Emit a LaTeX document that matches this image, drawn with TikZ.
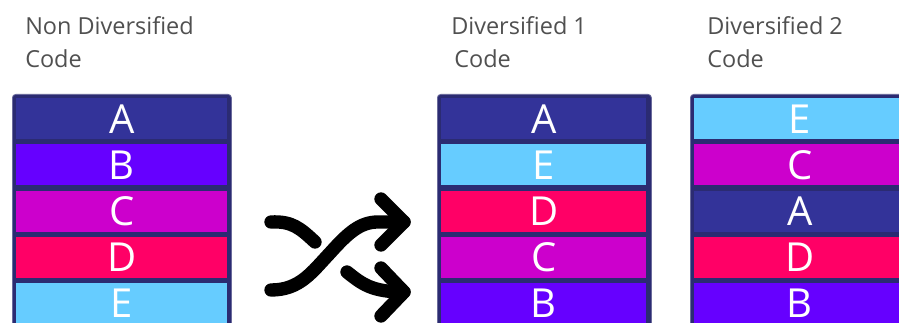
\documentclass[tikz,border=0pt]{standalone}
\usepackage{fontspec}
\setmainfont{Open Sans}
\definecolor{frame}{HTML}{2B2B72}
\definecolor{cA}{HTML}{333399}
\definecolor{cB}{HTML}{6600FF}
\definecolor{cC}{HTML}{CC00CC}
\definecolor{cD}{HTML}{FF0066}
\definecolor{cE}{HTML}{66CCFF}
\definecolor{lbl}{HTML}{505050}
\begin{document}
\begin{tikzpicture}[x=0.75pt,y=-0.75pt,
  title/.style={anchor=base west,inner sep=0pt,text=lbl,font=\fontsize{17.6}{18}\selectfont},
  stackframe/.style={draw=frame!70!white,line width=0.6pt,fill=frame,rounded corners=2.5pt,inner sep=0pt,anchor=north west,minimum height=240*0.75pt},
  row/.style={fill=#1,inner sep=0pt,anchor=north west,minimum height=41*0.75pt,text=white,font=\fontsize{30}{30}\selectfont},
  shuf/.style={line width=10pt,line cap=round,line join=round,black}]
\useasboundingbox (0,0) rectangle (899,323);
\clip (0,0) rectangle (899,323);
\fill[white] (0,0) rectangle (899,323);
% titles
\node[title] (t1a) at (25,35) {Non Diversified};
\node[title] (t1b) at (25,68) {Code};
\node[title] (t2a) at (451,35) {Diversified 1};
\node[title] (t2b) at (454,68) {Code};
\node[title] (t3a) at (707,35) {Diversified 2};
\node[title] (t3b) at (707,68) {Code};
% stacks
\node[stackframe,minimum width=219*0.75pt] (s1) at (12,94) {};
\node[stackframe,minimum width=214*0.75pt] (s2) at (437,94) {};
\node[stackframe,minimum width=219*0.75pt] (s3) at (690,94) {};
% rows
\foreach \n/\c [count=\i from 0] in {A/cA,B/cB,C/cC,D/cD,E/cE}{
  \node[row=\c,minimum width=211*0.75pt] (r1\n) at (16,98+46.2*\i) {\n};
}
\foreach \n/\c [count=\i from 0] in {A/cA,E/cE,D/cD,C/cC,B/cB}{
  \node[row=\c,minimum width=205*0.75pt] (r2\n) at (441,98+46.2*\i) {\n};
}
\foreach \n/\c [count=\i from 0] in {E/cE,C/cC,A/cA,D/cD,B/cB}{
  \node[row=\c,minimum width=211*0.75pt] (r3\n) at (694,98+46.2*\i) {\n};
}
% shuffle icon
\coordinate (p1) at (271,222);
\coordinate (p2) at (315,242);
\coordinate (q1) at (271,290);
\coordinate (q2) at (404,222);
\coordinate (u1) at (347,272);
\coordinate (u2) at (404,292);
\draw[shuf] (p1) .. controls (292,221) and (300,228) .. (p2);
\draw[shuf] (q1) .. controls (300,290) and (312,272) .. (330,253)
  .. controls (348,233) and (360,222) .. (378,222) -- (q2);
\draw[shuf] (u1) .. controls (362,284) and (372,292) .. (u2);
\draw[shuf] (381,199) -- (q2) -- (381,245);
\draw[shuf] (381,268) -- (u2) -- (381,316);
\end{tikzpicture}
\end{document}
